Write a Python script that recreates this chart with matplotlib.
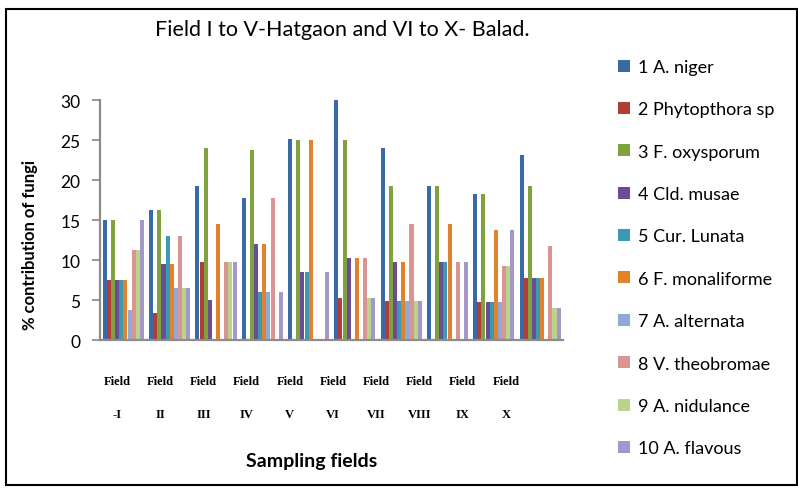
import matplotlib
matplotlib.use("Agg")
import matplotlib.pyplot as plt
import numpy as np
from matplotlib.patches import Rectangle

fields = ["-I", "II", "III", "IV", "V", "VI", "VII", "VIII", "IX", "X"]
species = ["1 A. niger", "2 Phytopthora sp", "3 F. oxysporum", "4 Cld. musae",
           "5 Cur. Lunata", "6 F. monaliforme", "7 A. alternata",
           "8 V. theobromae", "9 A. nidulance", "10 A. flavous"]

a_niger      = [15.0, 16.3, 19.2, 17.8, 25.1, 30.1, 24.0, 19.2, 18.3, 23.1]
phytopthora  = [7.5, 3.4, 9.7, 0.0, 0.0, 5.2, 4.9, 0.0, 4.7, 7.8]
f_oxysporum  = [15.0, 16.3, 24.0, 23.7, 25.0, 25.0, 19.2, 19.2, 18.3, 19.3]
cld_musae    = [7.5, 9.5, 5.0, 12.0, 8.5, 10.2, 9.7, 9.7, 4.7, 7.8]
cur_lunata   = [7.5, 13.0, 0.0, 6.0, 8.5, 0.0, 4.9, 9.7, 4.7, 7.8]
f_monaliforme= [7.5, 9.5, 14.5, 12.0, 25.0, 10.2, 9.7, 14.5, 13.8, 7.8]
a_alternata  = [3.8, 6.5, 0.0, 6.0, 0.0, 0.0, 4.9, 0.0, 4.7, 0.0]
v_theobromae = [11.3, 13.0, 9.7, 17.8, 0.0, 10.2, 14.5, 9.7, 9.3, 11.7]
a_nidulance  = [11.3, 6.5, 9.7, 0.0, 0.0, 5.2, 4.9, 0.0, 9.3, 4.0]
a_flavous    = [15.0, 6.5, 9.7, 6.0, 8.5, 5.2, 4.9, 9.7, 13.8, 4.0]

series = [a_niger, phytopthora, f_oxysporum, cld_musae, cur_lunata,
          f_monaliforme, a_alternata, v_theobromae, a_nidulance, a_flavous]
colors = ["#3A6AA6", "#B23C39", "#7FA23F", "#6B4D94", "#3A9AB4",
          "#E3822C", "#8EAAD8", "#D99493", "#B9D58C", "#A597C8"]

W, H = 798, 489
fig = plt.figure(figsize=(W/100, H/100), dpi=100)
ax = fig.add_axes([100/W, 1-341/H, (563-100)/W, (341-101)/H])

x = np.arange(len(fields))
bw = 0.089
for k, (vals, c) in enumerate(zip(series, colors)):
    ax.bar(x - 0.44 + bw*(k+0.5), vals, width=bw*0.98, color=c,
           label=species[k], edgecolor="none")

ax.set_xlim(-0.5, len(fields)-0.5)
ax.set_ylim(0, 30)
ax.set_yticks([0, 5, 10, 15, 20, 25, 30])
ax.tick_params(axis="y", labelsize=12.5, length=6, width=1.2, color="#888888", pad=8)
for lab in ax.get_yticklabels():
    lab.set_family("Lato")
ax.set_xticks([])
for s in ["top", "right"]:
    ax.spines[s].set_visible(False)
for s in ["left", "bottom"]:
    ax.spines[s].set_color("#8C8C8C")
    ax.spines[s].set_linewidth(1.6)

# custom field labels
for i, f in enumerate(fields):
    xp = (117 + 43.2*i) / W
    fig.text(xp, 1-382/H, "Field", ha="center", va="center",
             family="Liberation Serif", fontweight="bold", fontsize=9)
    fig.text(xp, 1-415/H, f, ha="center", va="center",
             family="Liberation Serif", fontweight="bold", fontsize=9)

fig.text(312/W, 1-462/H, "Sampling fields", ha="center", va="center",
         family="Lato", fontweight="bold", fontsize=14)
fig.text(30/W, 1-245/H, "% contribution of fungi", ha="center", va="center",
         rotation=90, family="Lato", fontweight="bold", fontsize=12)
fig.text(342/W, 1-30/H, "Field I to V-Hatgaon and VI to X- Balad.",
         ha="center", va="center", family="Lato", fontsize=15.5)

leg = ax.legend(loc="upper left", bbox_to_anchor=(618/W, 1-60/H),
                bbox_transform=fig.transFigure, frameon=False,
                prop={"family": "Lato", "size": 13}, handlelength=0.65,
                handleheight=0.65, handletextpad=0.45, labelspacing=1.46,
                borderpad=0, borderaxespad=0)

fig.patches.append(Rectangle((6/W, 1-486/H), (797-6)/W, (486-10)/H,
                             transform=fig.transFigure, fill=False,
                             edgecolor="black", linewidth=1.5))

fig.savefig("out.png", dpi=100)
